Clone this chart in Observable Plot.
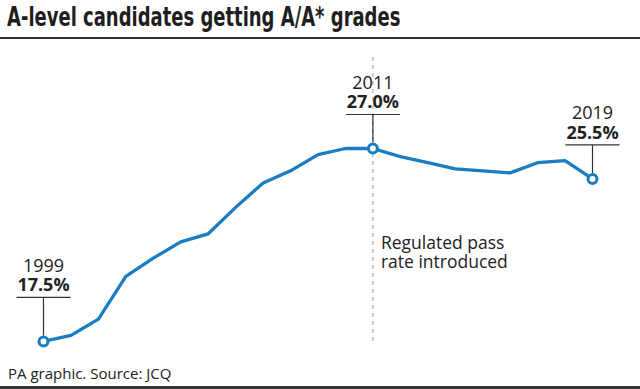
<!DOCTYPE html>
<html>
<head>
<meta charset="utf-8">
<script src="https://cdn.jsdelivr.net/npm/d3@7"></script>
<script src="https://cdn.jsdelivr.net/npm/@observablehq/plot@0.6"></script>
<style>
  html, body { margin: 0; padding: 0; background: #fff; }
  #wrap { position: relative; width: 640px; height: 389px; overflow: hidden; background: #fff; }
  #title { position: absolute; left: 7px; top: 0px; font-family: "Liberation Sans Narrow", "DejaVu Sans Condensed", sans-serif; font-weight: bold; font-size: 27px; line-height: 34px; color: #1e1e1e; white-space: nowrap; transform: scaleX(0.74); transform-origin: 0 0; }
  #rule-top { position: absolute; left: 0; top: 37px; width: 640px; height: 2px; background: #333; }
  #chart { position: absolute; left: 0; top: 40px; }
  #caption { position: absolute; left: 8px; top: 362px; font-family: "Open Sans", sans-serif; font-size: 15px; line-height: 22px; color: #222; white-space: nowrap; }
  #rule-bottom { position: absolute; left: 0; top: 386px; width: 640px; height: 3px; background: #333; }
</style>
</head>
<body>
<div id="wrap">
  <div id="title">A-level candidates getting A/A* grades</div>
  <div id="rule-top"></div>
  <div id="chart"></div>
  <div id="caption">PA graphic. Source: JCQ</div>
  <div id="rule-bottom"></div>
</div>
<script>
const years = [1999, 2000, 2001, 2002, 2003, 2004, 2005, 2006, 2007, 2008, 2009, 2010, 2011, 2012, 2013, 2014, 2015, 2016, 2017, 2018, 2019];
const values = [17.5, 17.8, 18.6, 20.7, 21.6, 22.4, 22.8, 24.1, 25.3, 25.9, 26.7, 27.0, 27.0, 26.6, 26.3, 26.0, 25.9, 25.8, 26.3, 26.4, 25.5];
const highlightYears = [1999, 2011, 2019];
const eventYear = 2011;
const eventLabel = "Regulated pass\nrate introduced";

const data = years.map((year, i) => ({year, value: values[i]}));
const highlights = data.filter(d => highlightYears.includes(d.year));
const labelText = d => d.year + "\n" + d.value.toFixed(1) + "%";

const blue = "#1a7cc1";
const ink = "#222";

function callout(h) {
  return {
    draw(ctx) {
      ctx.moveTo(0, -6);
      ctx.lineTo(0, -h);
      ctx.moveTo(-27, -h);
      ctx.lineTo(27, -h);
    }
  };
}

function annotation(filter, lift) {
  const rows = highlights.filter(filter);
  return [
    Plot.dot(rows, {x: "year", y: "value", symbol: callout(34 + lift), r: 4.5, fill: "none", stroke: "#333", strokeWidth: 1.2}),
    Plot.text(rows, {x: "year", y: "value", text: labelText, dy: -40 - lift, lineAnchor: "bottom", lineHeight: 1.1, fontSize: 18, fill: ink, className: "hl-label"})
  ];
}

const first = highlightYears[0];

const chart = Plot.plot({
  width: 640,
  height: 320,
  marginLeft: 43,
  marginRight: 48,
  marginTop: 17,
  marginBottom: 15,
  x: {domain: [years[0], years[years.length - 1]], axis: null},
  y: {domain: [17.3, 31.48], axis: null},
  style: {fontFamily: "'Open Sans', sans-serif", background: "transparent", overflow: "visible"},
  marks: [
    Plot.ruleX([eventYear], {stroke: "#9a9a9a", strokeWidth: 1, strokeDasharray: "4,4"}),
    Plot.text([eventYear], {x: d => d, frameAnchor: "bottom", text: () => eventLabel, textAnchor: "start", lineAnchor: "bottom", dx: 8, dy: -78, fontSize: 17.5, lineHeight: 1.06, fill: ink}),
    Plot.line(data, {x: "year", y: "value", stroke: blue, strokeWidth: 3.3, strokeLinejoin: "round", strokeLinecap: "round"}),
    ...annotation(d => d.year === first, 10),
    ...annotation(d => d.year !== first, 0),
    Plot.dot(highlights, {x: "year", y: "value", r: 4.5, fill: "white", stroke: blue, strokeWidth: 3})
  ]
});
// second line of each highlight label (the value) is bold
d3.select(chart).selectAll("g.hl-label text").each(function () {
  const spans = this.querySelectorAll("tspan");
  if (spans.length > 1) spans[spans.length - 1].setAttribute("font-weight", "bold");
});
document.getElementById("chart").appendChild(chart);
</script>
</body>
</html>
